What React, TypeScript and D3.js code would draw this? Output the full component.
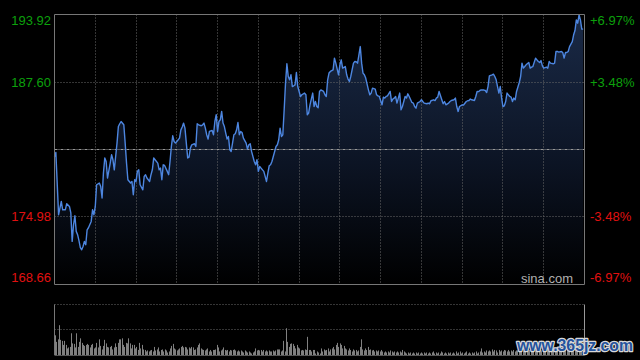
import * as d3 from "d3";

// intraday minutes (0 = open) and last price
const minutes = [
  0, 1, 3, 5, 6, 8, 9, 11, 12, 13, 14, 15, 16, 17, 18, 19, 20, 21, 22, 23, 24, 25, 27, 28, 29, 30,
  31, 33, 34, 35, 36, 37, 38, 39, 41, 42, 43, 44, 45, 46, 47, 48, 49, 51, 52, 53, 54, 56, 57, 58,
  59, 60, 61, 62, 63, 65, 66, 67, 68, 70, 71, 72, 73, 74, 76, 77, 78, 79, 80, 81, 83, 84, 85, 86,
  87, 88, 89, 90, 92, 93, 94, 95, 96, 97, 98, 99, 100, 101, 103, 104, 105, 106, 108, 109, 110,
  111, 112, 113, 114, 116, 117, 118, 119, 120, 121, 122, 123, 124, 125, 126, 127, 128, 129, 130,
  131, 132, 133, 134, 135, 136, 137, 138, 139, 141, 142, 143, 144, 145, 147, 148, 149, 150, 151,
  152, 154, 155, 156, 157, 158, 159, 160, 161, 163, 164, 165, 166, 167, 168, 169, 170, 171, 172,
  173, 174, 175, 176, 177, 178, 179, 180, 181, 182, 184, 185, 186, 187, 188, 190, 191, 192, 193,
  194, 195, 196, 198, 199, 200, 201, 202, 203, 205, 206, 207, 209, 210, 211, 212, 214, 215, 216,
  217, 218, 220, 221, 222, 223, 225, 226, 227, 228, 229, 231, 232, 233, 234, 236, 237, 238, 239,
  241, 242, 243, 244, 245, 247, 248, 249, 250, 251, 252, 253, 254, 255, 256, 258, 259, 260, 261,
  263, 264, 265, 266, 267, 269, 270, 271, 272, 274, 275, 276, 277, 279, 280, 281, 282, 283, 285,
  286, 287, 288, 290, 291, 292, 294, 295, 296, 297, 298, 300, 301, 303, 304, 305, 306, 307, 309,
  310, 311, 312, 313, 314, 316, 317, 318, 319, 320, 322, 323, 324, 325, 326, 327, 328, 329, 330,
  331, 332, 333, 335, 336, 337, 338, 339, 340, 341, 342, 343, 344, 345, 346, 347, 349, 350, 351,
  352, 354, 355, 356, 357, 358, 359, 360, 362, 363, 364, 365, 367, 368, 369, 370, 371, 373, 374,
  375, 376, 377, 378, 379, 381, 382, 383, 384, 385, 386, 387, 388, 389,
];

const prices = [
  180.61, 181.01, 175.19, 176.43, 175.65, 175.66, 176.22, 175.96, 175.37, 172.69, 174.25, 175.09,
  173.63, 173.32, 172.76, 172.1, 171.91, 172.22, 172.69, 172.38, 173.78, 173.97, 174.56, 175.65,
  175.19, 175.96, 177.99, 178.15, 177.83, 176.75, 179.09, 180.49, 180.17, 178.62, 180.02, 180.8,
  180.33, 179.39, 180.64, 181.89, 183.44, 183.7, 183.91, 183.6, 181.89, 180.02, 178.46, 178.15,
  178.3, 177.06, 178.46, 178.3, 179.24, 179.39, 177.99, 177.52, 178.77, 178.93, 178.62, 178.3,
  178.93, 179.39, 180.49, 180.33, 180.02, 179.39, 179.55, 178.46, 179.86, 179.8, 179.24, 178.93,
  180.17, 181.57, 182.57, 182.04, 181.89, 182.04, 182.36, 183.13, 183.39, 183.76, 183.29, 181.89,
  180.49, 180.58, 181.42, 181.73, 181.83, 181.57, 183.7, 183.6, 183.51, 183.6, 183.76, 183.29,
  182.67, 182.27, 182.98, 183.07, 182.67, 183.91, 184.54, 182.98, 183.91, 184.07, 184.85, 183.76,
  183.44, 182.83, 182.27, 182.51, 181.26, 181.11, 181.89, 182.67, 182.76, 183.13, 183.82, 182.67,
  182.98, 182.88, 182.36, 181.89, 181.33, 181.73, 181.83, 181.11, 180.17, 179.86, 180.33, 179.24,
  179.7, 179.55, 179.24, 178.77, 178.3, 179.09, 179.77, 179.86, 180.17, 180.64, 181.57, 181.73,
  182.2, 183.29, 182.51, 182.67, 185.0, 187.5, 189.31, 188.12, 187.81, 188.28, 187.18, 187.25,
  187.34, 188.49, 187.18, 186.72, 186.25, 186.41, 186.57, 186.41, 184.54, 184.7, 185.47, 186.57,
  185.31, 185.78, 185.31, 185.2, 186.72, 186.87, 186.72, 186.41, 186.25, 187.81, 188.44, 188.59,
  188.74, 189.84, 189.37, 188.28, 189.21, 189.68, 188.9, 189.05, 188.28, 187.88, 187.65, 188.12,
  189.37, 189.52, 189.5, 189.37, 190.92, 189.37, 188.44, 188.28, 187.97, 186.87, 186.41, 186.57,
  187.03, 186.94, 186.41, 186.31, 186.25, 185.47, 186.19, 186.1, 186.25, 186.31, 186.72, 185.78,
  186.01, 186.1, 186.25, 185.63, 186.1, 186.57, 185.0, 185.31, 186.25, 186.1, 186.5, 186.25,
  185.69, 185.63, 185.31, 185.16, 185.63, 185.78, 185.94, 185.78, 185.63, 185.57, 185.63, 185.57,
  185.85, 185.94, 185.87, 186.1, 186.19, 186.72, 185.94, 185.57, 185.78, 185.47, 185.63, 185.78,
  185.87, 185.94, 186.1, 185.31, 184.85, 185.31, 185.47, 185.45, 185.78, 185.85, 185.87, 186.01,
  185.94, 185.87, 186.25, 186.72, 186.7, 186.81, 186.87, 186.85, 186.81, 186.62, 187.18, 188.18,
  188.28, 188.34, 188.12, 187.81, 187.18, 186.57, 187.18, 186.1, 185.31, 185.38, 185.78, 186.57,
  186.25, 186.19, 185.78, 186.1, 185.94, 186.72, 187.13, 187.56, 188.12, 189.37, 188.9, 189.05,
  189.21, 189.43, 188.9, 189.0, 189.05, 189.84, 189.68, 189.52, 189.43, 189.61, 189.12, 188.9,
  189.0, 188.9, 189.52, 189.37, 189.31, 189.37, 190.46, 190.46, 190.4, 190.46, 190.36, 189.84,
  190.36, 190.36, 190.46, 190.92, 191.39, 192.02, 192.42, 193.42, 193.11, 193.89, 193.42, 192.55,
  192.55,
];

// volume per bar, relative to the panel's top line (= 100)
const volumes = [
  39, 26, 31, 59, 30, 28, 20, 28, 20, 13, 15, 16, 43, 23, 22, 15, 43, 16, 26, 33, 24, 20, 18, 20,
  22, 20, 15, 20, 22, 13, 15, 24, 15, 31, 18, 11, 18, 30, 23, 16, 15, 16, 18, 11, 15, 23, 16, 24,
  31, 31, 33, 20, 16, 24, 23, 33, 23, 13, 20, 20, 13, 16, 10, 24, 13, 20, 11, 10, 7, 9, 7, 9, 10,
  7, 16, 9, 11, 15, 7, 10, 11, 7, 11, 9, 5, 7, 13, 18, 22, 13, 11, 9, 11, 13, 16, 18, 15, 16, 15,
  11, 15, 13, 16, 15, 10, 11, 15, 20, 23, 13, 11, 10, 9, 11, 13, 7, 10, 7, 10, 10, 11, 20, 15, 7,
  9, 11, 15, 10, 9, 10, 7, 10, 9, 10, 11, 9, 7, 9, 7, 9, 7, 5, 9, 7, 5, 7, 5, 3, 5, 7, 13, 9, 10,
  9, 10, 7, 10, 7, 9, 7, 9, 7, 7, 9, 7, 9, 11, 11, 11, 7, 9, 28, 7, 53, 26, 16, 22, 23, 22, 18,
  13, 20, 15, 13, 9, 10, 9, 11, 10, 36, 10, 10, 7, 10, 10, 3, 7, 5, 3,
  13, 7, 11, 9, 10, 13, 7, 11, 13, 16, 11, 20, 24, 16, 23, 20, 13, 18, 13, 11, 9, 13, 10, 7, 11,
  9, 10, 7, 9, 16, 31, 11, 9, 13, 10, 16, 10, 11, 9, 10, 7, 9, 7, 9, 7, 10, 7, 5, 7, 5, 7, 5, 9,
  7, 5, 7, 5, 7, 5, 7, 5, 10, 7, 5, 3, 5, 3, 5, 3, 5, 3, 5, 3, 5, 3, 5, 3, 5, 3, 5, 3, 5, 3, 5, 7,
  3, 5, 3, 5, 3, 7, 5, 3, 5, 3, 5, 3, 5, 3, 5, 3, 7, 3, 5, 7, 3, 5, 3, 5, 7, 3, 5, 3, 5, 3, 5, 7,
  3, 5, 7, 13, 5, 7, 5, 9, 7, 9, 7, 11, 7, 10, 9, 5, 10, 7, 9, 7, 10, 9, 7, 10, 7, 9, 7, 10, 7, 9,
  9, 10, 8, 12, 9, 11, 10, 8, 12, 10, 9, 11, 13, 10, 9, 12, 10, 11, 9, 13, 10, 12, 11, 9, 14, 10,
  12, 11, 10, 13, 12, 11, 14, 10, 12, 13, 11, 15, 12, 14, 13, 12, 16, 14, 13, 15, 18, 16, 20, 30,
];

const priceTicks = [193.92, 187.6, 181.29, 174.98, 168.66];
const leftLabels = ["193.92", "187.60", "", "174.98", "168.66"];
const rightLabels = ["+6.97%", "+3.48%", "", "-3.48%", "-6.97%"];
const labelColors = ["#0ca10c", "#0ca10c", "", "#e01010", "#e01010"];

const width = 640;
const height = 360;
const plot = { left: 54.5, right: 584.5, top: 14.5, bottom: 284.5 };
const vol = { top: 304.5, bottom: 355 };
const font = "'Liberation Sans Narrow', 'Arial Narrow', 'Liberation Sans', Arial, sans-serif";

export default function App() {
  const x = d3.scaleLinear().domain([0, 390]).range([plot.left, plot.right]);
  const y = d3.scaleLinear().domain([168.66, 193.92]).range([plot.bottom, plot.top]);
  const vx = d3
    .scaleLinear()
    .domain([0, volumes.length])
    .range([plot.left + 1, plot.right]);
  const vy = d3.scaleLinear().domain([0, 100]).range([vol.bottom, vol.top]);

  const pts = minutes.map((m, i) => [m, prices[i]] as [number, number]);
  const line = d3
    .line<[number, number]>()
    .x((d) => x(d[0]))
    .y((d) => y(d[1]));
  const area = d3
    .area<[number, number]>()
    .x((d) => x(d[0]))
    .y0(plot.bottom)
    .y1((d) => y(d[1]));

  const vLines = d3.range(1, 13).map((i) => Math.round(x((i * 390) / 13) - 0.5) + 0.5);
  const crisp = (v: number) => Math.round(v - 0.5) + 0.5;

  return (
    <div style={{ position: "fixed", inset: 0, background: "#000" }}>
      <svg width={width} height={height} style={{ display: "block" }}>
        <defs>
          <linearGradient id="fill" gradientUnits="userSpaceOnUse" x1="0" y1={plot.top} x2="0" y2={plot.bottom}>
            <stop offset="0%" stopColor="#1a2a47" />
            <stop offset="55%" stopColor="#0c1424" />
            <stop offset="100%" stopColor="#000000" />
          </linearGradient>
        </defs>
        <rect width={width} height={height} fill="#000" />

        <path d={area(pts) ?? ""} fill="url(#fill)" />

        {/* grid */}
        {vLines.map((vx0) => (
          <line key={vx0} x1={vx0} x2={vx0} y1={plot.top} y2={plot.bottom} stroke="#6a6a6a" strokeDasharray="1,2" />
        ))}
        {priceTicks.map((t, i) =>
          i === 0 || i === 4 ? null : (
            <line
              key={t}
              x1={plot.left}
              x2={plot.right}
              y1={crisp(y(t))}
              y2={crisp(y(t))}
              stroke={i === 2 ? "#9a9a9a" : "#6a6a6a"}
              strokeDasharray={i === 2 ? "3,1,1,1" : "1,2"}
            />
          )
        )}

        <path d={line(pts) ?? ""} fill="none" stroke="#4d86e0" strokeWidth={1.4} strokeLinejoin="round" />

        {/* frame */}
        <line x1={plot.left} x2={plot.right} y1={plot.top} y2={plot.top} stroke="#777" />
        <line x1={plot.left} x2={plot.right} y1={plot.bottom} y2={plot.bottom} stroke="#777" />
        <line x1={plot.left} x2={plot.left} y1={plot.top} y2={plot.bottom} stroke="#777" />
        <line x1={plot.right} x2={plot.right} y1={plot.top} y2={plot.bottom} stroke="#777" />

        {/* axis labels */}
        {priceTicks.map((t, i) => {
          const ty = i === 0 ? y(t) + 10.5 : i === 4 ? y(t) - 2.5 : y(t) + 4.5;
          return (
            <g key={"l" + t} fontFamily={font} fontSize={13}>
              <text x={51} y={ty} textAnchor="end" fill={labelColors[i]}>
                {leftLabels[i]}
              </text>
              <text x={590} y={ty} fill={labelColors[i]}>
                {rightLabels[i]}
              </text>
            </g>
          );
        })}
        <text x={573} y={283} textAnchor="end" fill="#b0b0b0" fontFamily={font} fontSize={13}>
          sina.com
        </text>

        {/* volume panel */}
        <line x1={plot.left} x2={plot.right} y1={vol.top} y2={vol.top} stroke="#6a6a6a" strokeDasharray="1,2" />
        <line
          x1={plot.left}
          x2={plot.right}
          y1={crisp(vy(50))}
          y2={crisp(vy(50))}
          stroke="#6a6a6a"
          strokeDasharray="1,2"
        />
        {volumes.map((v, i) => (
          <rect
            key={i}
            x={Math.floor(vx(i))}
            y={vy(v)}
            width={1}
            height={vol.bottom - vy(v)}
            fill="#808080"
          />
        ))}
        <line x1={plot.left} x2={plot.left} y1={vol.top} y2={vol.bottom} stroke="#777" />
        <line x1={plot.right} x2={plot.right} y1={vol.top} y2={vol.bottom} stroke="#999" />
        <line x1={plot.left} x2={plot.right} y1={vol.bottom + 0.5} y2={vol.bottom + 0.5} stroke="#555" />

        {/* site watermark */}
        <text
          x={517}
          y={351}
          fontFamily="'Liberation Sans', Arial, sans-serif"
          fontWeight="bold"
          fontSize={17}
          textLength={116}
          lengthAdjust="spacingAndGlyphs"
          fill="#24529c"
          stroke="#d8d8d8"
          strokeWidth={2.5}
          paintOrder="stroke"
          strokeLinejoin="round"
        >
          www.365jz.com
        </text>
      </svg>
    </div>
  );
}
